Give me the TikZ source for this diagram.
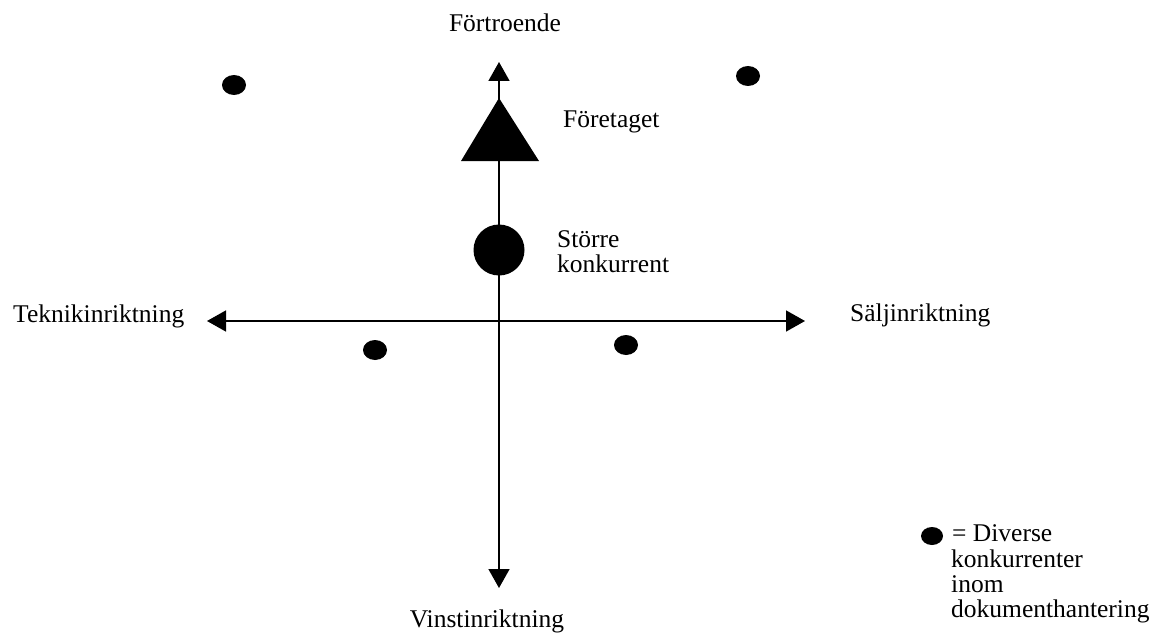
\documentclass[tikz,border=0pt]{standalone}
\usepackage{fontspec}
\setmainfont{Liberation Serif}
\usetikzlibrary{arrows.meta,shapes.geometric}

\tikzset{
  axis/.style={line width=1.6pt, {Triangle[length=19pt,width=21pt]}-{Triangle[length=19pt,width=21pt]}},
  dot/.style={ellipse, fill=black, inner sep=0pt, minimum width=24pt, minimum height=20pt},
  bigdot/.style={circle, fill=black, inner sep=0pt, minimum size=51pt},
  lbl/.style={inner sep=0pt, font=\fontsize{25.5}{25.5}\selectfont},
}

\begin{document}
\begin{tikzpicture}[x=1pt,y=-1pt]
  \useasboundingbox (0,0) rectangle (1157,634);

  % axis end points
  \coordinate (top) at (499,62);
  \coordinate (bottom) at (499,588);
  \coordinate (left) at (207,321);
  \coordinate (right) at (805,321);

  \draw[axis] (bottom) -- (top);
  \draw[axis] (left) -- (right);

  % the company (triangle) and the larger competitor (circle)
  \fill (499,98) -- (539,161) -- (461,161) -- cycle;
  \node[bigdot] (large) at (499,250) {};

  % other competitors
  \node[dot] (c1) at (234,85) {};
  \node[dot] (c2) at (748,76) {};
  \node[dot] (c3) at (375,350) {};
  \node[dot] (c4) at (626,345) {};

  % axis labels
  \node[lbl, anchor=base] (ltop) at (505,32) {Förtroende};
  \node[lbl, anchor=base] (lbottom) at (487,627) {Vinstinriktning};
  \node[lbl, anchor=base west] (lleft) at (13,322) {Teknikinriktning};
  \node[lbl, anchor=base west] (lright) at (850,321) {Säljinriktning};

  % point labels
  \node[lbl, anchor=base west] (lcomp) at (563,128) {Företaget};
  \node[lbl, anchor=base west] (llarge1) at (557,247) {Större};
  \node[lbl, anchor=base west] (llarge2) at (557,272) {konkurrent};

  % legend
  \node[dot, minimum width=22pt, minimum height=18pt] (key) at (932,536) {};
  \node[lbl, anchor=base west] (k1) at (952,541) {= Diverse};
  \node[lbl, anchor=base west] (k2) at (951,567) {konkurrenter};
  \node[lbl, anchor=base west] (k3) at (951,592) {inom};
  \node[lbl, anchor=base west] (k4) at (951,617) {dokumenthantering};
\end{tikzpicture}
\end{document}
